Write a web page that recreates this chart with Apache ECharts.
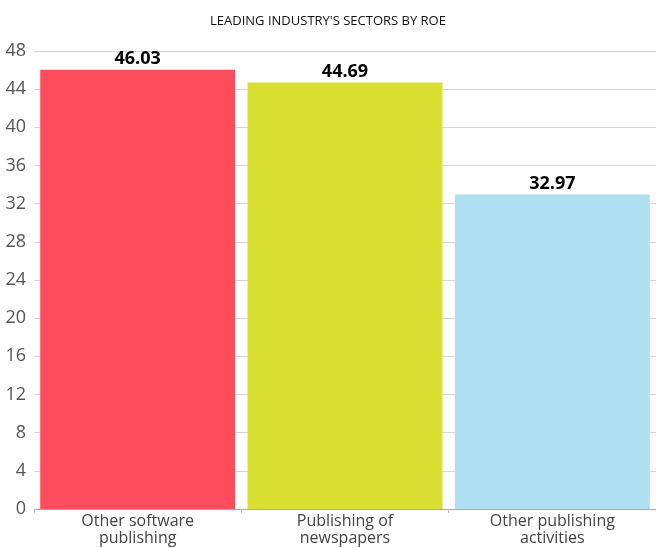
<!DOCTYPE html>
<html><head><meta charset="utf-8">
<script src="https://cdn.jsdelivr.net/npm/echarts@6/dist/echarts.min.js"></script>
<style>html,body{margin:0;padding:0;background:#fff}#c{width:656px;height:548px}</style>
</head><body><div id="c"></div>
<script>
const title = "LEADING INDUSTRY'S SECTORS BY ROE";
const categories = ["Other software\npublishing", "Publishing of\nnewspapers", "Other publishing\nactivities"];
const values = [46.03, 44.69, 32.97];
const colors = ["#fd4c5c", "#d8df30", "#aee0f2"];
const yMin = 0, yMax = 48, yStep = 4;

const chart = echarts.init(document.getElementById('c'), null, {renderer: 'canvas'});
chart.setOption({
  animation: false,
  title: {text: title, left: 'center', top: 10, textStyle: {fontFamily: 'Open Sans', fontSize: 13, fontWeight: 'normal', color: '#111'}},
  grid: {left: 34, right: 0, top: 51, bottom: 39, containLabel: false},
  xAxis: {
    type: 'category', data: categories,
    axisLine: {lineStyle: {color: '#aaa'}},
    axisTick: {show: true, lineStyle: {color: '#bbb'}, length: 4},
    axisLabel: {fontFamily: 'Open Sans', fontSize: 16, color: '#444', lineHeight: 17, margin: 4}
  },
  yAxis: {
    type: 'value', min: yMin, max: yMax, interval: yStep,
    axisLine: {show: false}, axisTick: {show: false},
    splitLine: {lineStyle: {color: '#d6d6d6'}},
    axisLabel: {fontFamily: 'Open Sans', fontSize: 18, color: '#555', margin: 8}
  },
  series: [{
    type: 'bar',
    data: values.map((v, i) => ({value: v, itemStyle: {color: colors[i]}})),
    barCategoryGap: '6%',
    label: {show: true, position: 'top', distance: 2, fontFamily: 'Open Sans', fontSize: 18, fontWeight: 'bold', color: '#000', formatter: p => p.value.toFixed(2)}
  }]
});
</script></body></html>
